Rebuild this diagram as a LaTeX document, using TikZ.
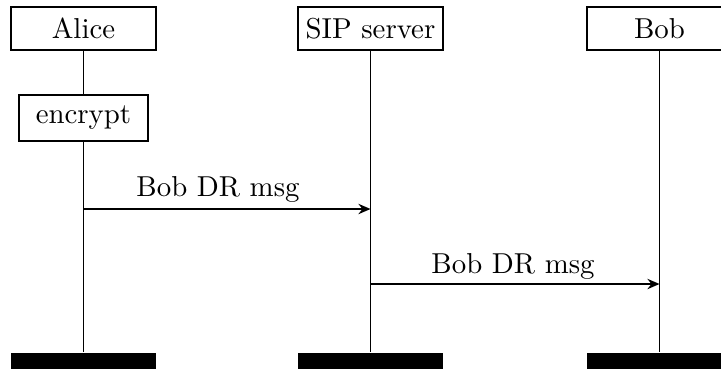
\documentclass[tikz,border=0pt]{standalone}
\usetikzlibrary{arrows.meta}
\begin{document}
\begin{tikzpicture}[x=0.347pt,y=-0.347pt,
  actor/.style={draw, line width=0.6pt, minimum width=50.3pt, minimum height=15pt, inner sep=0pt, font=\normalsize},
  bar/.style={fill=black, draw=none, minimum width=50.3pt, minimum height=8pt, inner sep=0pt},
  life/.style={line width=0.6pt},
  msg/.style={line width=0.6pt, -{Stealth[length=4.2pt,width=3.6pt,inset=1.4pt]}},
  lbl/.style={font=\normalsize, inner sep=0pt}]
\clip (0,0) rectangle (721,368);
\node[actor] (alice) at (83.5,28.5) {Alice};
\node[actor] (sip) at (370.5,28.5) {SIP server};
\node[actor] (bob) at (659.5,28.5) {Bob};
\node[actor, minimum width=44.8pt, minimum height=16pt] (enc) at (83.5,118) {encrypt};
\node[bar, anchor=north] (abar) at (83.5,352) {};
\node[bar, anchor=north] (sbar) at (370.5,352) {};
\node[bar, anchor=north] (bbar) at (659.5,352) {};
\draw[life] (alice.south) -- (enc.north);
\draw[life] (enc.south) -- (abar.north);
\draw[life] (sip.south) -- (sbar.north);
\draw[life] (bob.south) -- (bbar.north);
\coordinate (a1) at (83.5,209);
\coordinate (s1) at (370.5,209);
\coordinate (s2) at (370.5,284);
\coordinate (b2) at (659.5,284);
\draw[msg] (a1) -- (s1);
\draw[msg] (s2) -- (b2);
\node[lbl] (l1) at (218,189) {Bob DR msg};
\node[lbl] (l2) at (513,266) {Bob DR msg};
\end{tikzpicture}
\end{document}
